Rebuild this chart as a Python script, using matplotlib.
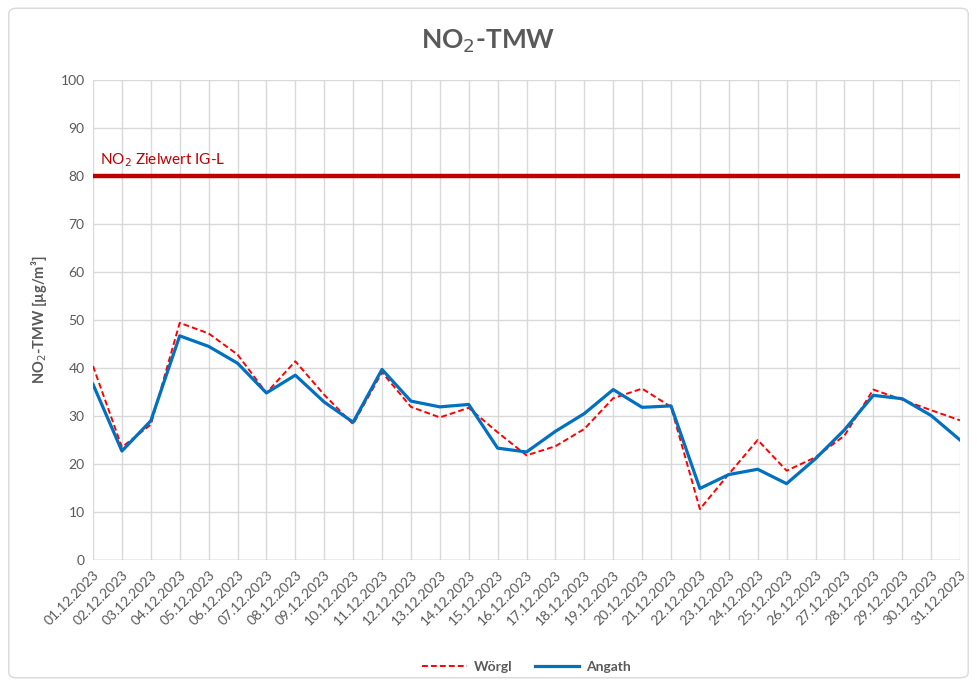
import matplotlib.pyplot as plt
from matplotlib.patches import FancyBboxPatch

# Tagesmittelwerte NO2 Dezember 2023
dates = ["%02d.12.2023" % d for d in range(1, 32)]
woergl = [40.4, 23.5, 28.2, 49.4, 47.2, 42.8, 34.8, 41.4, 34.4, 28.3, 39.1,
          31.9, 29.7, 31.7, 26.6, 21.8, 23.7, 27.3, 33.7, 35.7, 31.9,
          10.6, 17.9, 25.0, 18.6, 21.4, 25.9, 35.5, 33.4, 31.2, 29.1]
angath = [36.6, 22.7, 29.0, 46.7, 44.5, 41.0, 34.8, 38.5, 32.9, 28.7, 39.7,
          33.1, 31.9, 32.4, 23.3, 22.5, 26.8, 30.5, 35.5, 31.8, 32.1,
          14.9, 17.8, 18.9, 15.9, 21.1, 27.1, 34.3, 33.6, 30.1, 25.0]
zielwert = 80
yticks = list(range(0, 101, 10))

plt.rcParams['font.family'] = ['Lato', 'DejaVu Sans']
grey = "#595959"

fig = plt.figure(figsize=(9.77, 6.86), dpi=100)
fig.patches.append(FancyBboxPatch((0.009, 0.012), 0.982, 0.976, boxstyle="round,pad=0,rounding_size=0.008",
                                  transform=fig.transFigure, facecolor="none", edgecolor="#d9d9d9", lw=1))
ax = fig.add_axes([0.0952, 0.1837, 0.8874, 0.6997])

x = list(range(len(dates)))
ax.plot(x, [zielwert] * len(x), color="#c00000", lw=3.2, zorder=3)
ax.plot(x, woergl, color="#ff0000", lw=1.4, ls=(0, (3, 1.6)), label="Wörgl", zorder=4)
ax.plot(x, angath, color="#0070c0", lw=2.3, label="Angath", zorder=5)

ax.text(0.25, 82.5, "NO$_2$ Zielwert IG-L", color="#c00000", fontsize=11)

ax.set_xlim(0, len(dates) - 1)
ax.set_ylim(0, 100)
ax.set_yticks(yticks)
ax.set_xticks(x)
ax.set_xticklabels(dates, rotation=45, ha="right", rotation_mode="anchor")
ax.tick_params(axis="both", length=0, colors=grey, labelsize=10, pad=6)
ax.grid(True, color="#d9d9d9", lw=1)
ax.set_axisbelow(True)
for s in ax.spines.values():
    s.set_visible(False)
ax.axhline(0, color="#bfbfbf", lw=1, zorder=2)

ax.set_ylabel("NO$_2$-TMW [µg/m³]", color=grey, fontsize=10.5, fontweight="bold", labelpad=8)
fig.text(0.5, 0.94, "NO$_2$-TMW", ha="center", va="center", fontsize=19, fontweight="bold", color=grey)

leg = ax.legend(loc="upper center", bbox_to_anchor=(0.5, -0.185), ncol=2, frameon=False,
                fontsize=10, labelcolor=grey, handlelength=3.2, handletextpad=0.5,
                columnspacing=1.6)
for t in leg.get_texts():
    t.set_fontweight("bold")

fig.savefig("out.png", dpi=100)
